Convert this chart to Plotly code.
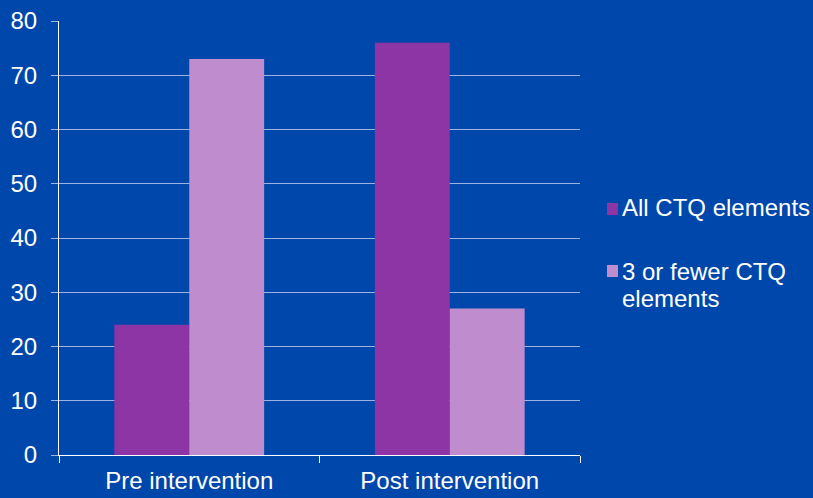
import plotly.graph_objects as go

categories = ["Pre intervention", "Post intervention"]
series_names = ["All CTQ elements", "3 or fewer CTQ<br>elements"]
series_colors = ["#8E35A5", "#BF8CCD"]
all_ctq = [24, 76]
fewer_ctq = [73, 27]
y_ticks = [0, 10, 20, 30, 40, 50, 60, 70, 80]

BG = "#0047AB"
FONT = dict(family="Liberation Sans, Arial, sans-serif", size=24, color="white")

fig = go.Figure()
for name, vals, col in zip(series_names, [all_ctq, fewer_ctq], series_colors):
    fig.add_trace(go.Bar(x=categories, y=vals, name=name.replace("<br>", " "),
                         marker=dict(color=col, line=dict(width=0)),
                         showlegend=False))

# manual legend (square + label), matching the reference's tight spacing
W, H, T, B, L, PW = 813, 498, 21, 43, 59, 521
plot_h = H - T - B
legend_square_centres = [209, 271]   # px from top
legend_line_centres = [[207.5], [271.5, 298]]


def py(px):
    return (H - B - px) / plot_h


def px_x(px):
    return (px - L) / PW


for name, col, sqc, lines in zip(series_names, series_colors,
                                 legend_square_centres, legend_line_centres):
    fig.add_shape(type="rect", xref="paper", yref="paper",
                  x0=px_x(607), x1=px_x(618),
                  y0=py(sqc + 6), y1=py(sqc - 6),
                  fillcolor=col, line=dict(width=0))
    for part, yc in zip(name.split("<br>"), lines):
        fig.add_annotation(xref="paper", yref="paper",
                           x=px_x(620), y=py(yc),
                           xanchor="left", yanchor="middle", align="left",
                           text=part, showarrow=False, font=FONT)

fig.update_layout(
    width=W, height=H,
    paper_bgcolor=BG, plot_bgcolor=BG,
    font=FONT,
    barmode="group", bargap=0.425, bargroupgap=0,
    margin=dict(l=L, r=W - L - PW, t=T, b=B, autoexpand=False),
    showlegend=False,
    xaxis=dict(showgrid=False, showline=True, linecolor="white", linewidth=1,
               ticks="outside", tickson="boundaries", ticklen=7, tickcolor="white",
               ticklabelstandoff=4, tickfont=FONT, automargin=False),
    yaxis=dict(range=[0, 80], tickvals=y_ticks, showgrid=True,
               gridcolor="#9DB3E0", gridwidth=1, zeroline=False,
               showline=True, linecolor="white", linewidth=1,
               ticks="outside", ticklen=7, tickcolor="#9DB3E0",
               ticklabelstandoff=9, tickfont=FONT, automargin=False),
)

fig.write_html("out.html")
